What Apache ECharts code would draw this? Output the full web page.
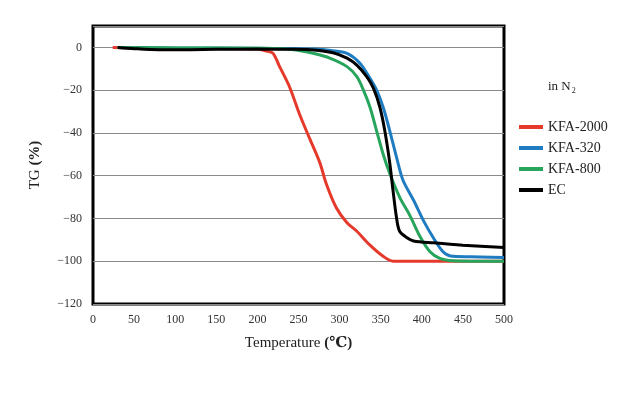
<!DOCTYPE html>
<html><head><meta charset="utf-8">
<script src="https://cdn.jsdelivr.net/npm/echarts@6/dist/echarts.min.js"></script>
<style>html,body{margin:0;padding:0;background:#fff}#c{width:642px;height:393px}</style>
</head><body><div id="c"></div>
<script>
const seriesNames = ['KFA-2000', 'KFA-320', 'KFA-800', 'EC'];
const xTicks = [0, 50, 100, 150, 200, 250, 300, 350, 400, 450, 500];
const yTicks = [0, -20, -40, -60, -80, -100, -120];
const kfa2000 = [[24,0],[100,-0.5],[200,-0.8],[211,-1.7],[219,-2.8],[227,-9],[239,-18.4],[252,-32],[264,-43],[276,-54],[284,-64],[296,-75],[309,-82],[321,-86],[337,-92.5],[353,-97.7],[365,-100],[400,-100],[450,-100],[500,-100]];
const kfa320 = [[30,0],[100,-0.3],[200,-0.4],[270,-0.8],[290,-1.5],[309,-2.8],[325,-7.5],[337,-14.5],[345,-20],[353,-28],[361,-39],[369,-51],[377,-62],[390,-71.5],[402,-81],[414,-89],[426,-95.6],[438,-97.7],[471,-98],[500,-98.3]];
const kfa800 = [[30,0],[100,-0.3],[200,-0.4],[235,-0.8],[252,-1.6],[268,-2.8],[288,-5],[309,-9],[321,-13.7],[329,-20],[337,-28],[345,-39],[353,-50],[361,-59],[373,-70],[386,-79],[398,-88.6],[410,-95.6],[422,-98.7],[438,-99.8],[470,-100],[500,-100]];
const ec = [[30,0],[50,-0.6],[80,-1.1],[110,-1.1],[150,-0.9],[200,-0.8],[240,-0.9],[268,-1.2],[292,-2.5],[309,-5],[321,-8.3],[333,-13.7],[341,-19],[349,-28],[355,-39],[361,-54],[365,-67],[369,-79],[373,-86],[382,-89],[390,-90.5],[414,-91.4],[450,-92.5],[500,-93.6]];
const colors = ['#e53a2b', '#1f7cc1', '#27a55c', '#000000'];
const dataSets = [kfa2000, kfa320, kfa800, ec];

const serif = '"Liberation Serif", "DejaVu Serif", serif';
const chart = echarts.init(document.getElementById('c'));
chart.setOption({
  animation: false,
  backgroundColor: '#fff',
  grid: { left: 93, right: 138, top: 26, bottom: 89, show: true, borderColor: '#000', borderWidth: 3 },
  legend: {
    data: seriesNames, orient: 'vertical', left: 514, top: 115,
    itemWidth: 24, itemHeight: 4, itemGap: 7, icon: 'rect',
    textStyle: { fontFamily: serif, fontSize: 14, color: '#222' }
  },
  graphic: [{
    type: 'text', left: 548, top: 80,
    style: { text: '{a|in N}{s|2}', rich: {
      a: { fontFamily: serif, fontSize: 13, fill: '#222' },
      s: { fontFamily: serif, fontSize: 8, fill: '#222', padding: [8, 0, 0, 1] } } }
  }],
  xAxis: {
    type: 'value', min: 0, max: 500, interval: 50,
    name: '{a|Temperature }{b|(℃)}', nameLocation: 'middle', nameGap: 32,
    nameTextStyle: { rich: {
      a: { fontFamily: serif, fontSize: 15, color: '#222' },
      b: { fontFamily: serif, fontSize: 15, fontWeight: 'bold', color: '#222' } } },
    axisLine: { show: false }, axisTick: { show: false }, splitLine: { show: false },
    axisLabel: { fontFamily: serif, fontSize: 12, color: '#333', margin: 10 }
  },
  yAxis: {
    type: 'value', min: -120, max: 10, interval: 20,
    name: '{a|TG }{b|(%)}', nameLocation: 'middle', nameGap: 50, nameRotate: 90,
    nameTextStyle: { rich: {
      a: { fontFamily: serif, fontSize: 15, color: '#222' },
      b: { fontFamily: serif, fontSize: 15, fontWeight: 'bold', color: '#222' } } },
    axisLine: { show: false }, axisTick: { show: false },
    splitLine: { show: true, lineStyle: { color: '#8a8a8a', width: 1 } },
    axisLabel: { fontFamily: serif, fontSize: 12, color: '#333', margin: 11, showMaxLabel: false,
      formatter: v => (yTicks.indexOf(v) >= 0 ? String(v).replace('-', '−') : '') }
  },
  series: seriesNames.map((n, i) => ({
    name: n, type: 'line', data: dataSets[i], smooth: 0.3, showSymbol: false,
    lineStyle: { color: colors[i], width: 3 }, itemStyle: { color: colors[i] }, z: i === 3 ? 5 : 3
  }))
});
</script></body></html>
